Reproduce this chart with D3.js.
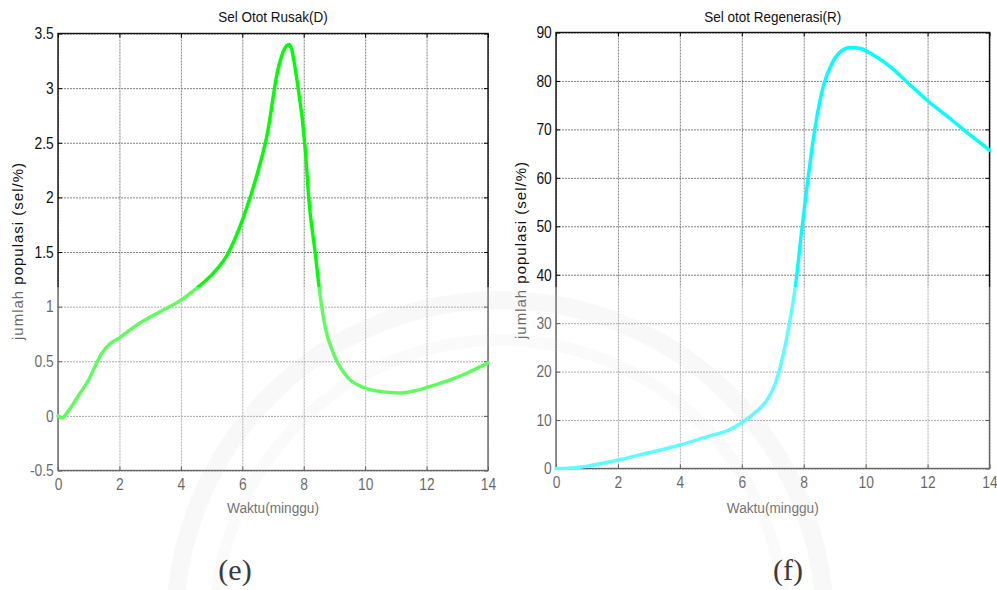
<!DOCTYPE html>
<html>
<head>
<meta charset="utf-8">
<script src="https://cdn.jsdelivr.net/npm/d3@7"></script>
<style>
  html, body { margin: 0; padding: 0; background: #fff; }
  svg { display: block; font-family: "Liberation Sans", Arial, sans-serif; }
</style>
</head>
<body>
<svg id="chart" width="997" height="590"></svg>
<script>
// ---------- data ----------
const xTicks = [0, 2, 4, 6, 8, 10, 12, 14];

const titleD = "Sel Otot Rusak(D)";
const timeD = [0, 0.12, 0.35, 0.7, 1, 1.2, 1.42, 1.69, 1.97, 2.5, 3, 3.5, 4, 4.5, 5, 5.5, 6, 6.5, 6.8, 7.16, 7.45, 7.52, 7.6, 7.76, 8.06, 8.16, 8.37, 8.54, 8.7, 8.97, 9.4, 9.95, 10.6, 11.14, 11.7, 12.23, 12.77, 13.3, 14];
const valD  = [0, -0.02, 0.05, 0.2, 0.33, 0.45, 0.57, 0.66, 0.71, 0.82, 0.905, 0.98, 1.06, 1.165, 1.29, 1.47, 1.79, 2.23, 2.56, 3.17, 3.39, 3.4, 3.36, 3.11, 2.41, 2.0, 1.5, 1.09, 0.81, 0.57, 0.36, 0.26, 0.22, 0.21, 0.235, 0.28, 0.33, 0.39, 0.485];
const yTicksD = [-0.5, 0, 0.5, 1, 1.5, 2, 2.5, 3, 3.5];

const titleR = "Sel otot Regenerasi(R)";
const timeR = [0, 0.5, 1.01, 1.98, 2.95, 3.98, 4.99, 5.53, 5.98, 6.44, 6.82, 7.09, 7.3, 7.52, 7.73, 7.95, 8.16, 8.37, 8.64, 8.91, 9.18, 9.5, 9.83, 10.26, 10.8, 11.33, 11.98, 12.73, 13.38, 14];
const valR  = [0, 0.1, 0.5, 1.7, 3.2, 4.8, 6.8, 7.8, 9.4, 11.6, 14.2, 17.7, 22.5, 29.3, 37.6, 50, 61, 70.5, 79.1, 83.6, 86.0, 86.9, 86.7, 85.3, 82.9, 79.8, 76.0, 72.2, 68.8, 65.7];
const yTicksR = [0, 10, 20, 30, 40, 50, 60, 70, 80, 90];

const xLabel = "Waktu(minggu)";
const yLabel = "jumlah populasi (sel/%)";
const panelLabels = ["(e)", "(f)"];

// ---------- drawing ----------
const svg = d3.select("#chart");
const overlayTop = 287;
const later = [];

function panel(cfg) {
  const { x0, x1, yTop, yBot, times, vals, yTicks, yDomain, color, title, label } = cfg;
  const x = d3.scaleLinear().domain([0, 14]).range([x0, x1]);
  const y = d3.scaleLinear().domain(yDomain).range([yBot, yTop]);
  const g = svg.append("g");

  // grid
  const grid = g.append("g");
  grid.append("g").attr("transform", `translate(0,${yBot})`)
    .call(d3.axisBottom(x).tickValues(xTicks).tickSize(-(yBot - yTop)).tickFormat(""))
    .call(s => s.select(".domain").remove())
    .call(s => s.selectAll("line").attr("stroke", "#808080").attr("stroke-dasharray", "2,1"));
  grid.append("g").attr("transform", `translate(${x0},0)`)
    .call(d3.axisLeft(y).tickValues(yTicks).tickSize(-(x1 - x0)).tickFormat(""))
    .call(s => s.select(".domain").remove())
    .call(s => s.selectAll("line").attr("stroke", "#808080").attr("stroke-dasharray", "2,1"));

  // inward ticks on all four sides
  const tk = 4;
  g.append("g").attr("transform", `translate(0,${yBot})`)
    .call(d3.axisBottom(x).tickValues(xTicks).tickSize(-tk).tickFormat(""))
    .call(s => s.select(".domain").remove());
  g.append("g").attr("transform", `translate(0,${yTop})`)
    .call(d3.axisTop(x).tickValues(xTicks).tickSize(-tk).tickFormat(""))
    .call(s => s.select(".domain").remove());
  g.append("g").attr("transform", `translate(${x0},0)`)
    .call(d3.axisLeft(y).tickValues(yTicks).tickSize(-tk).tickFormat(""))
    .call(s => s.select(".domain").remove());
  g.append("g").attr("transform", `translate(${x1},0)`)
    .call(d3.axisRight(y).tickValues(yTicks).tickSize(-tk).tickFormat(""))
    .call(s => s.select(".domain").remove());

  // tick labels
  const xa = g.append("g").attr("transform", `translate(0,${yBot})`)
    .call(d3.axisBottom(x).tickValues(xTicks).tickSize(0).tickPadding(8).tickFormat(d3.format("d")));
  xa.select(".domain").remove();
  xa.selectAll("text").attr("font-size", 16.5).attr("fill", "#111")
    .attr("font-family", "Liberation Sans, Arial, sans-serif")
    .attr("transform", "scale(0.84,1)");
  const ya = g.append("g").attr("transform", `translate(${x0},0)`)
    .call(d3.axisLeft(y).tickValues(yTicks).tickSize(0).tickPadding(5).tickFormat(d => String(d)));
  ya.select(".domain").remove();
  ya.selectAll("text").attr("font-size", 16.5).attr("fill", "#111")
    .attr("font-family", "Liberation Sans, Arial, sans-serif")
    .attr("transform", "scale(0.84,1)");

  // box
  g.append("rect").attr("x", x0).attr("y", yTop).attr("width", x1 - x0).attr("height", yBot - yTop)
    .attr("fill", "none").attr("stroke", "#111").attr("stroke-width", 1.4);

  // curve
  const line = d3.line().x((d, i) => x(times[i])).y(d => y(d)).curve(d3.curveMonotoneX);
  g.append("path").datum(vals).attr("d", line)
    .attr("fill", "none").attr("stroke", color).attr("stroke-width", 3.4)
    .attr("stroke-linejoin", "round").attr("stroke-linecap", "round");

  const cx = (x0 + x1) / 2;
  // title
  g.append("text").attr("transform", `translate(${cx},22) scale(0.9,1)`)
    .attr("text-anchor", "middle").attr("font-size", 15).attr("fill", "#111").text(title);
  // x label
  g.append("text").attr("transform", `translate(${cx},513) scale(0.88,1)`)
    .attr("text-anchor", "middle").attr("font-size", 15.5).attr("fill", "#222").text(xLabel);
  // y label
  g.append("text").attr("transform", `translate(${cfg.ylx},${cfg.yly}) rotate(-90)`)
    .attr("text-anchor", "middle").attr("font-size", 15).attr("letter-spacing", 1)
    .attr("fill", "#111").text(yLabel);
  // panel label (drawn after the overlay)
  later.push(() => svg.append("text").attr("x", cfg.plx).attr("y", 580)
    .attr("text-anchor", "middle").attr("font-size", 30)
    .attr("font-family", "'Liberation Serif', 'Times New Roman', serif")
    .attr("fill", "#3a3a3a").text(label));
}

panel({ x0: 58, x1: 488, yTop: 33.5, yBot: 470.5, times: timeD, vals: valD, yTicks: yTicksD,
        yDomain: [-0.5, 3.5], color: "#00ff00", title: titleD, label: panelLabels[0],
        ylx: 23, yly: 251, plx: 235 });
panel({ x0: 556, x1: 989.5, yTop: 32.5, yBot: 468.5, times: timeR, vals: valR, yTicks: yTicksR,
        yDomain: [0, 90], color: "#00ffff", title: titleR, label: panelLabels[1],
        ylx: 526, yly: 250, plx: 788 });

// faint watermark arcs and lighter lower band (as in the scanned reference)
const wm = svg.append("g");
wm.append("circle").attr("cx", 500).attr("cy", 625).attr("r", 325)
  .attr("fill", "none").attr("stroke", "rgba(140,140,140,0.09)").attr("stroke-width", 18);
wm.append("circle").attr("cx", 500).attr("cy", 625).attr("r", 285)
  .attr("fill", "none").attr("stroke", "rgba(140,140,140,0.06)").attr("stroke-width", 12);
svg.append("rect").attr("x", 0).attr("y", overlayTop).attr("width", 997).attr("height", 590 - overlayTop)
  .attr("fill", "#fff").attr("opacity", 0.36);
later.forEach(f => f());
</script>
</body>
</html>
